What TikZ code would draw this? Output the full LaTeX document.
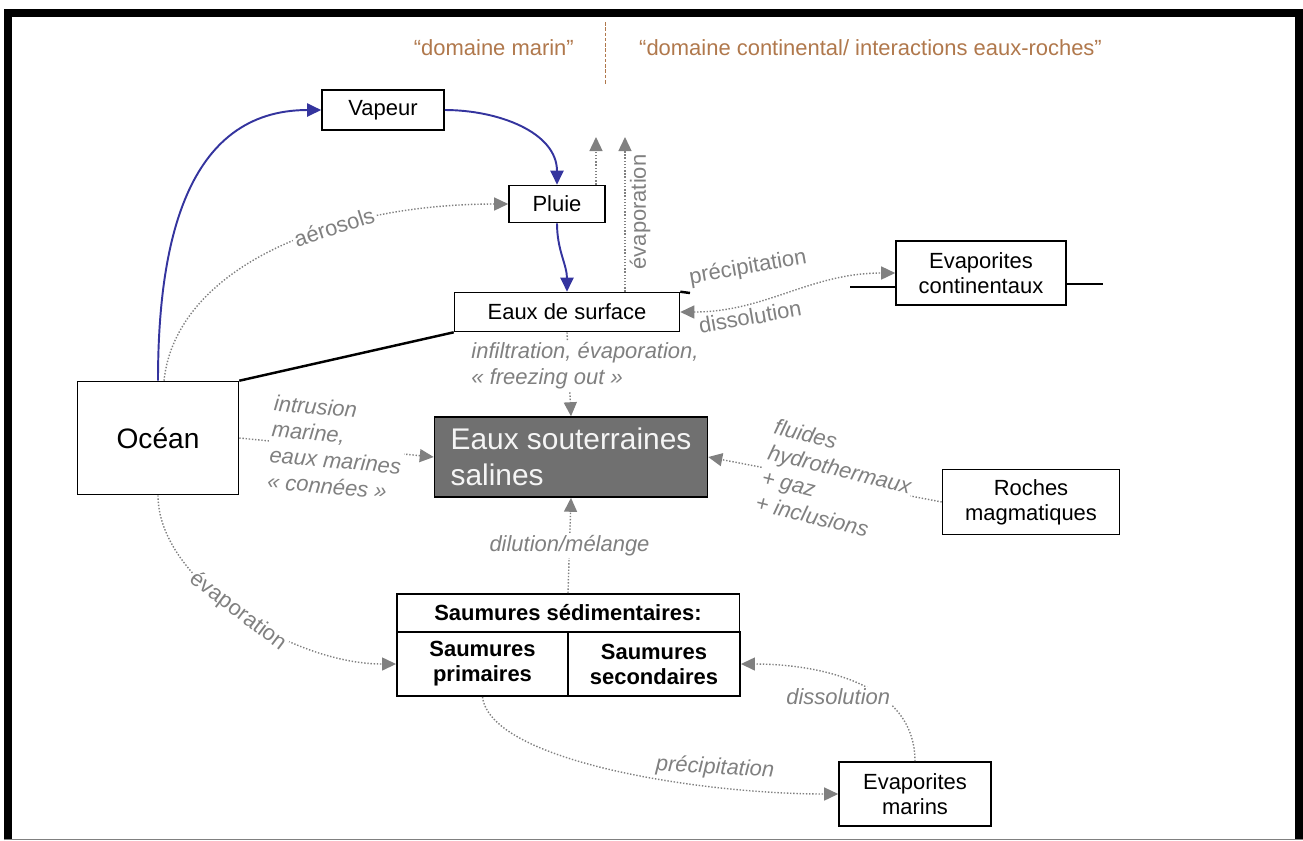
\documentclass[tikz,border=0pt]{standalone}
\usepackage{fontspec}
\setmainfont{Liberation Sans}
\usetikzlibrary{arrows.meta,calc}
\definecolor{flowblue}{RGB}{52,52,158}
\definecolor{flowgray}{RGB}{128,128,128}
\definecolor{domainbrown}{RGB}{176,120,76}
\definecolor{salinegray}{RGB}{112,112,112}

\begin{document}
\begin{tikzpicture}[
  x=0.02cm, y=-0.02cm,
  >={Triangle[length=0.28cm,width=0.26cm]},
  box/.style={draw, line width=0.9pt, align=center, inner sep=0pt, font=\fontsize{12.5}{14.2}\selectfont},
  tabbox/.style={box, line width=1.1pt, font=\fontsize{12.5}{14.2}\selectfont\bfseries},
  bluearr/.style={->, draw=flowblue, line width=1.1pt},
  grayarr/.style={->, draw=flowgray, densely dotted, line width=0.8pt},
  lbl/.style={text=flowgray, inner sep=1pt, font=\fontsize{12.5}{15}\selectfont},
  ilbl/.style={lbl, font=\fontsize{12.5}{14.8}\selectfont\itshape},
  ground/.style={line width=1.4pt},
]
\useasboundingbox (0,0) rectangle (1303,840);
% Frame
\draw[line width=0.16cm, line join=miter] (8,840) -- (8,13) -- (1299,13) -- (1299,840);
\draw[gray, line width=0.6pt] (4,839.5) -- (1303,839.5);

% Domains
\node[text=domainbrown, anchor=east, font=\fontsize{12.5}{15}\selectfont] (marin) at (580,48) {“domaine marin”};
\node[text=domainbrown, anchor=west, font=\fontsize{12.5}{15}\selectfont] (continental) at (633,48) {“domaine continental/ interactions eaux-roches”};
\coordinate (divtop) at (605,22);
\coordinate (divbot) at (605,84);
\draw[domainbrown, dash pattern=on 2pt off 1pt, line width=0.5pt] (divtop) -- (divbot);

% Boxes
\node[box, minimum width=2.44cm, minimum height=0.8cm] (vapeur) at (383,110) {Vapeur};
\node[box, minimum width=1.92cm, minimum height=0.74cm] (pluie) at (557,204) {Pluie};
\node[box, minimum width=4.5cm, minimum height=0.78cm] (surface) at (567,312) {Eaux de surface};
\node[box, minimum width=3.4cm, minimum height=1.28cm] (evapcont) at (981,273) {Evaporites\\continentaux};
\node[box, minimum width=3.22cm, minimum height=2.26cm, font=\fontsize{16}{19}\selectfont] (ocean) at (158,438) {Océan};
\node[box, fill=salinegray, text=white!92!gray, minimum width=5.46cm, minimum height=1.6cm, align=left, font=\fontsize{17}{20.5}\selectfont] (souterraines) at (571,457) {Eaux souterraines\\salines};
\node[box, minimum width=3.54cm, minimum height=1.3cm] (roches) at (1031,502) {Roches\\magmatiques};
\node[tabbox, minimum width=6.86cm, minimum height=0.76cm] (sedim) at (568,613) {Saumures sédimentaires:};
\node[tabbox, minimum width=3.42cm, minimum height=1.28cm] (primaires) at (482.5,664) {Saumures\\primaires};
\node[tabbox, minimum width=3.44cm, minimum height=1.28cm] (secondaires) at (654,664) {Saumures\\secondaires};
\node[box, minimum width=3.04cm, minimum height=1.28cm] (evapmar) at (915,794) {Evaporites\\marins};

% Ground lines
\coordinate (stub) at (690,293);
\coordinate (contw) at (850,287);
\coordinate (conte) at (1103,284);
\draw[ground] (ocean.north east) -- (surface.south west);
\draw[ground] (surface.north east) -- (stub);
\draw[ground] (contw) -- (evapcont.west |- contw);
\draw[ground] (evapcont.east |- conte) -- (conte);

% Water cycle
\draw[bluearr] (ocean.north) to[out=90, in=180, looseness=1.1] (vapeur.west);
\draw[bluearr] (vapeur.east) to[out=0, in=90] (pluie.north);
\draw[bluearr] (pluie.south) to[out=-90, in=90] (surface.north);

\draw[grayarr] ($(ocean.north)+(6,0)$) to[out=84, in=180, out distance=2.25cm, in distance=3.6cm]
  node[lbl, pos=0.65, fill=white, rotate=18] (aerosols) {aérosols} (pluie.west);

\coordinate (evapA) at (596,137);
\coordinate (evapB) at (625,137);
\draw[grayarr] (pluie.north -| evapA) -- (evapA);
\draw[grayarr] (surface.north -| evapB) -- (evapB);
\node[lbl, rotate=90] (evaplbl) at (640,212) {évaporation};

% Continental evaporites
\draw[grayarr, <->] (surface.east) to[out=0, in=180] (evapcont.west);
\node[lbl, rotate=10] (precipc) at (748,268) {précipitation};
\node[lbl, rotate=10] (dissolc) at (750,317) {dissolution};

% Towards saline groundwater
\draw[grayarr] (surface.south) -- (souterraines.north)
  node[ilbl, midway, fill=white, align=left, xshift=0.32cm, yshift=0.17cm] (infiltr) {infiltration, évaporation,\\« freezing out »};
\draw[grayarr] (ocean.east) -- (souterraines.west)
  node[ilbl, midway, fill=white, align=left, rotate=-5] (intrusion) {intrusion\\marine,\\eaux marines\\« connées »};
\draw[grayarr] (roches.west) -- (souterraines.east)
  node[ilbl, pos=0.45, fill=white, align=left, rotate=-14] (fluides) {fluides\\hydrothermaux\\+ gaz\\+ inclusions};
\draw[grayarr] (sedim.north) -- (souterraines.south)
  node[ilbl, midway, fill=white] (dilution) {dilution/mélange};

% Sedimentary brines
\draw[grayarr] (ocean.south) to[out=-90, in=180, out distance=1.7cm, in distance=2.1cm]
  node[lbl, pos=0.5, fill=white, rotate=-37] (evapmer) {évaporation} (primaires.west);
\draw[grayarr] (primaires.south) to[out=-83, in=180, out distance=1.29cm, in distance=2.78cm] (evapmar.west);
\node[ilbl, rotate=-3] (precipm) at (715,768) {précipitation};
\draw[grayarr] (evapmar.north) to[out=90, in=0]
  node[ilbl, pos=0.5, fill=white, xshift=-0.38cm, yshift=-0.26cm] (dissolm) {dissolution} (secondaires.east);
\end{tikzpicture}
\end{document}
